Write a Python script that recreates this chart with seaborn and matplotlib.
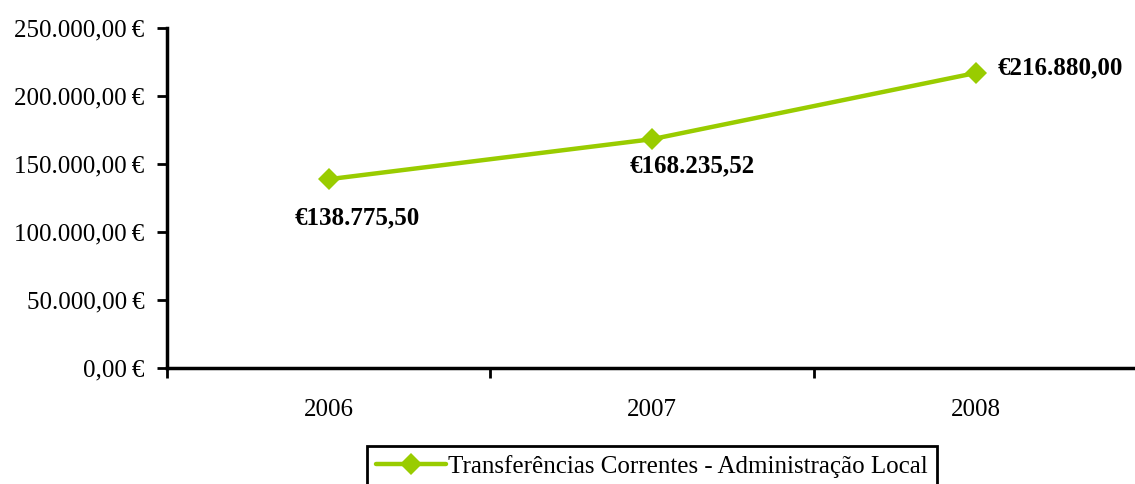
import pandas as pd
import numpy as np
import seaborn as sns
import matplotlib.pyplot as plt
from matplotlib.ticker import FuncFormatter

# Data
anos = ["2006", "2007", "2008"]
valores = [138775.50, 168235.52, 216880.00]
rotulos = ["€138.775,50", "€168.235,52", "€216.880,00"]
serie = "Transferências Correntes - Administração Local"

df = pd.DataFrame({"pos": np.arange(len(anos)), "valor": valores, "serie": serie})

sns.set_style("white")
plt.rcParams["font.family"] = ["Liberation Serif", "DejaVu Serif"]
plt.rcParams["text.color"] = "black"
plt.rcParams["xtick.color"] = "black"
plt.rcParams["ytick.color"] = "black"

fig = plt.figure(figsize=(11.35, 4.84), dpi=100)
ax = fig.add_axes([0.147, 0.2397, 0.855, 0.7025])

verde = "#99CC00"
sns.lineplot(data=df, x="pos", y="valor", hue="serie", palette=[verde],
             marker="D", markersize=11, linewidth=3.2, markeredgewidth=0,
             ax=ax)


def euro(v, pos):
    s = f"{v:,.2f}".replace(",", "X").replace(".", ",").replace("X", ".")
    return s + "\u2009€"


ax.set_ylim(0, 250000)
ax.set_yticks(np.arange(0, 250001, 50000))
ax.yaxis.set_major_formatter(FuncFormatter(euro))
ax.set_xlim(-0.5, 2.5)
ax.set_xticks([-0.5, 0.5, 1.5, 2.5])
ax.set_xticklabels([])
ax.set_xticks(range(len(anos)), minor=True)
ax.set_xticklabels(anos, minor=True)
ax.tick_params(axis="x", which="minor", bottom=False, length=0, pad=22,
               labelsize=18)
ax.tick_params(axis="x", which="major", bottom=True, length=7, width=2,
               direction="out")
ax.tick_params(axis="y", left=True, length=7, width=2, direction="out",
               labelsize=18, pad=9)
ax.set_xlabel("")
ax.set_ylabel("")

for s in ["top", "right"]:
    ax.spines[s].set_visible(False)
for s in ["left", "bottom"]:
    ax.spines[s].set_linewidth(2.5)
    ax.spines[s].set_color("black")

offsets = [(21, -28), (29, -19), (61, 4)]
for i, (v, r) in enumerate(zip(valores, rotulos)):
    ax.annotate(r, (i, v), xytext=offsets[i], textcoords="offset points",
                ha="center", va="center", fontsize=18, fontweight="bold")

ax.legend_.remove()
leg = fig.legend(*ax.get_legend_handles_labels(), loc="upper center",
                 bbox_to_anchor=(0.5745, 0.0785), borderaxespad=0,
                 fontsize=18, frameon=True, fancybox=False, framealpha=1,
                 handlelength=2.8, handletextpad=0.1, borderpad=0.35)
leg.get_frame().set_edgecolor("black")
leg.get_frame().set_linewidth(2)

fig.savefig("out.png", dpi=100)
